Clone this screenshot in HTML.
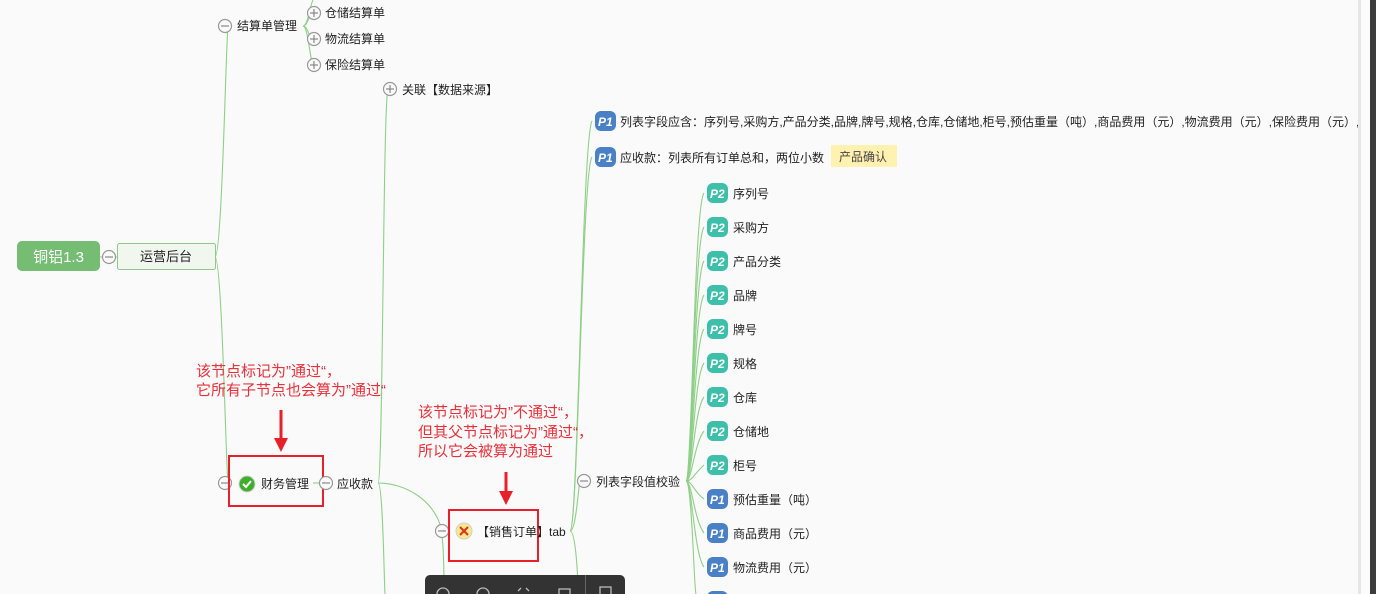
<!DOCTYPE html>
<html><head><meta charset="utf-8"><style>
html,body{margin:0;padding:0;background:#fafafa;width:1376px;height:594px;overflow:hidden}
svg{display:block}
text{font-family:"Liberation Sans","Noto Sans CJK SC",sans-serif;font-size:12px;fill:#222}
.red{fill:#e8303a;font-size:15px}
.b{fill:#fff;font-size:12px;font-style:italic;font-weight:bold}
</style></head><body>
<svg width="1376" height="594" viewBox="0 0 1376 594">
<defs>
<g id="minus"><circle r="6.5" fill="#fafafa" stroke="#999" stroke-width="1.2"/><line x1="-4" y1="0" x2="4" y2="0" stroke="#888" stroke-width="1.2"/></g>
<g id="plus"><circle r="6.5" fill="#fafafa" stroke="#999" stroke-width="1.2"/><line x1="-4" y1="0" x2="4" y2="0" stroke="#888" stroke-width="1.2"/><line x1="0" y1="-4" x2="0" y2="4" stroke="#888" stroke-width="1.2"/></g>
</defs>
<g fill="none" stroke="#8fcf88" stroke-width="1.1">
<line x1="100" y1="257" x2="117" y2="257"/>
<path d="M215 257 C222 257 226 40 228 26"/>
<path d="M215 257 C222 257 226 470 228 483"/>
<path d="M303 26 C308 26 310 5 313 0"/>
<path d="M303 26 C308 26 309 13 313 13"/>
<path d="M303 26 C308 26 309 39 313 39"/>
<path d="M303 26 C308 26 310 60 313 65"/>
<line x1="313" y1="483" x2="320" y2="483"/>
<path d="M378 483 C383 483 383 100 388 89"/>
<path d="M378 483 C383 483 384 580 385 594"/>
<path d="M378 483 C405 483 435 500 442 531"/>
<path d="M442 537 C444 550 444 580 444 594"/>
<path d="M570 531 C578 531 582 140 592 121"/>
<path d="M570 531 C578 531 582 170 592 157"/>
<path d="M570 531 C576 531 578 490 580 481"/>
<path d="M570 531 C576 531 578 580 578 594"/>
<path d="M686 481 C692 481 694 205 704 193"/>
<path d="M686 481 C692 481 694 240 704 227"/>
<path d="M686 481 C692 481 694 275 704 261"/>
<path d="M686 481 C692 481 694 308 704 295"/>
<path d="M686 481 C692 481 694 342 704 329"/>
<path d="M686 481 C692 481 694 376 704 363"/>
<path d="M686 481 C692 481 694 410 704 397"/>
<path d="M686 481 C692 481 694 444 704 431"/>
<path d="M686 481 C692 481 694 474 704 465"/>
<path d="M686 481 C692 481 694 492 704 499"/>
<path d="M686 481 C692 481 694 520 704 533"/>
<path d="M686 481 C692 481 694 554 704 567"/>
<path d="M686 481 C692 481 694 590 696 594"/>
</g>
<rect x="17" y="241" width="83" height="30" rx="5" fill="#74bd72"/>
<text x="58.5" y="262" text-anchor="middle" style="fill:#fff;font-size:15px">铜铝1.3</text>
<use href="#minus" x="109" y="257"/>
<rect x="117.5" y="243.5" width="98" height="26" rx="2" fill="#f1f7ef" stroke="#8ec98a"/>
<text x="166" y="261" text-anchor="middle" style="font-size:13px">运营后台</text>
<use href="#minus" x="225" y="26"/><text x="237" y="30">结算单管理</text>
<use href="#plus" x="314" y="13"/><text x="325" y="17">仓储结算单</text>
<use href="#plus" x="314" y="39"/><text x="325" y="43">物流结算单</text>
<use href="#plus" x="314" y="65"/><text x="325" y="69">保险结算单</text>
<use href="#plus" x="390" y="89"/><text x="402" y="94">关联【数据来源】</text>
<use href="#minus" x="225" y="483"/>
<rect x="229" y="456" width="94" height="50" fill="none" stroke="#e8202a" stroke-width="2"/>
<circle cx="247" cy="484" r="8" fill="#3fae2a" stroke="#cfcfcf" stroke-width="1"/>
<path d="M243 484 l3 3 l5 -6" fill="none" stroke="#fff" stroke-width="2"/>
<text x="261" y="488">财务管理</text>
<use href="#minus" x="326" y="483"/><text x="337" y="488">应收款</text>
<use href="#minus" x="442" y="531"/>
<rect x="449" y="510" width="89" height="51" fill="none" stroke="#e8202a" stroke-width="2"/>
<circle cx="464" cy="531" r="8" fill="#fbe98a" stroke="#cfcfcf"/>
<path d="M460 527 l8 8 M468 527 l-8 8" stroke="#e03020" stroke-width="2"/>
<text x="477" y="536">【销售订单】tab</text>
<rect x="595" y="111" width="21" height="20" rx="6" fill="#4a80c6"/><text class="b" x="598" y="126">P1</text>
<text x="620" y="126">列表字段应含：序列号,采购方,产品分类,品牌,牌号,规格,仓库,仓储地,柜号,预估重量（吨）,商品费用（元）,物流费用（元）,保险费用（元）,订</text>
<rect x="595" y="147" width="21" height="20" rx="6" fill="#4a80c6"/><text class="b" x="598" y="162">P1</text>
<text x="620" y="162">应收款：列表所有订单总和，两位小数</text>
<rect x="831" y="145" width="66" height="22" fill="#fff1b0"/><text x="839" y="161" style="fill:#444">产品确认</text>
<use href="#minus" x="584" y="481"/><text x="596" y="486">列表字段值校验</text>
<g>
<rect x="707" y="183" width="21" height="20" rx="6" fill="#3dbfa9"/><text class="b" x="710" y="198">P2</text><text x="733" y="198">序列号</text>
<rect x="707" y="217" width="21" height="20" rx="6" fill="#3dbfa9"/><text class="b" x="710" y="232">P2</text><text x="733" y="232">采购方</text>
<rect x="707" y="251" width="21" height="20" rx="6" fill="#3dbfa9"/><text class="b" x="710" y="266">P2</text><text x="733" y="266">产品分类</text>
<rect x="707" y="285" width="21" height="20" rx="6" fill="#3dbfa9"/><text class="b" x="710" y="300">P2</text><text x="733" y="300">品牌</text>
<rect x="707" y="319" width="21" height="20" rx="6" fill="#3dbfa9"/><text class="b" x="710" y="334">P2</text><text x="733" y="334">牌号</text>
<rect x="707" y="353" width="21" height="20" rx="6" fill="#3dbfa9"/><text class="b" x="710" y="368">P2</text><text x="733" y="368">规格</text>
<rect x="707" y="387" width="21" height="20" rx="6" fill="#3dbfa9"/><text class="b" x="710" y="402">P2</text><text x="733" y="402">仓库</text>
<rect x="707" y="421" width="21" height="20" rx="6" fill="#3dbfa9"/><text class="b" x="710" y="436">P2</text><text x="733" y="436">仓储地</text>
<rect x="707" y="455" width="21" height="20" rx="6" fill="#3dbfa9"/><text class="b" x="710" y="470">P2</text><text x="733" y="470">柜号</text>
<rect x="707" y="489" width="21" height="20" rx="6" fill="#4a80c6"/><text class="b" x="710" y="504">P1</text><text x="733" y="504">预估重量（吨）</text>
<rect x="707" y="523" width="21" height="20" rx="6" fill="#4a80c6"/><text class="b" x="710" y="538">P1</text><text x="733" y="538">商品费用（元）</text>
<rect x="707" y="557" width="21" height="20" rx="6" fill="#4a80c6"/><text class="b" x="710" y="572">P1</text><text x="733" y="572">物流费用（元）</text>
<rect x="707" y="591" width="21" height="20" rx="6" fill="#4a80c6"/>
</g>
<text class="red" x="196" y="376">该节点标记为”通过“，</text>
<text class="red" x="196" y="395">它所有子节点也会算为”通过“</text>
<line x1="281" y1="410" x2="281" y2="440" stroke="#e8202a" stroke-width="3"/>
<path d="M274 438 L288 438 L281 452 Z" fill="#e8202a"/>
<text class="red" x="418" y="417">该节点标记为”不通过“，</text>
<text class="red" x="418" y="437">但其父节点标记为”通过“，</text>
<text class="red" x="418" y="456">所以它会被算为通过</text>
<line x1="506" y1="472" x2="506" y2="493" stroke="#e8202a" stroke-width="3"/>
<path d="M499 491 L513 491 L506 505 Z" fill="#e8202a"/>
<rect x="425" y="575" width="200" height="30" rx="5" fill="#333"/>
<line x1="585.5" y1="575" x2="585.5" y2="594" stroke="#666"/>
<g fill="none" stroke="#bbb" stroke-width="1.3">
<circle cx="443" cy="594" r="6"/><circle cx="483" cy="594" r="6"/>
<path d="M518 591 l3 -3 M529 591 l-3 -3"/>
<rect x="559" y="589" width="11" height="10"/>
<rect x="600" y="587" width="11" height="12"/>
</g>
<rect x="1358" y="0" width="4" height="594" fill="#e6e6e6"/>
<rect x="1361" y="0" width="9" height="594" fill="#fbfbfb"/>
<rect x="1370" y="0" width="6" height="594" fill="#3c3c3c"/>
</svg>
</body></html>
